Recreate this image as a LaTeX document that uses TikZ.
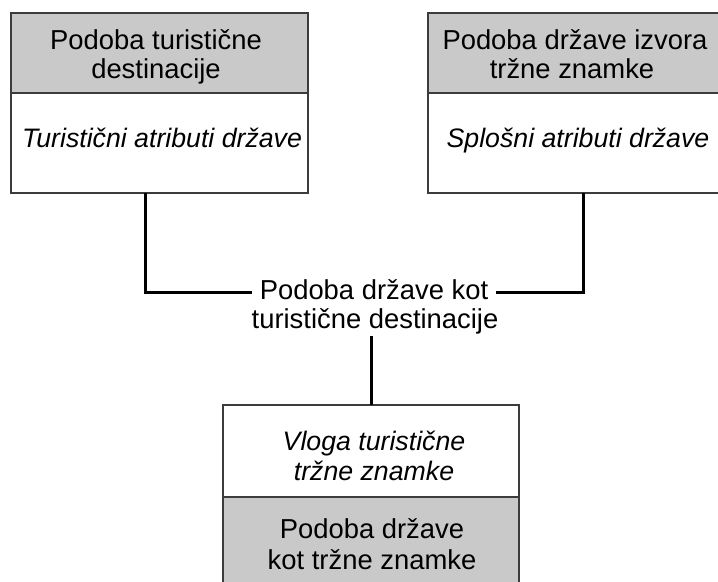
\documentclass[tikz,border=0pt]{standalone}
\usepackage{fontspec}
\setmainfont{Liberation Sans}
\definecolor{boxgray}{RGB}{201,201,201}
\definecolor{edge}{RGB}{60,60,60}
\begin{document}
\begin{tikzpicture}[x=1bp,y=-1bp,
  box/.style={draw=edge, line width=1.4bp, anchor=north west, inner sep=0pt, outer sep=0pt},
  gbox/.style={box, fill=boxgray},
  txt/.style={font=\fontsize{27.5}{30}\selectfont, anchor=base, inner sep=0pt},
  itxt/.style={txt, font=\fontsize{26.8}{30}\selectfont\itshape},
  link/.style={line width=3bp, black},
  lbl/.style={font=\fontsize{27.5}{30}\selectfont, inner xsep=8bp, inner ysep=2bp, anchor=base}
]
\useasboundingbox (0,0) rectangle (718,582);
\clip (0,0) rectangle (718,582);
% left box
\node[gbox, minimum width=297bp, minimum height=80bp] (lt) at (11,13) {};
\node[box, minimum width=297bp, minimum height=100bp] (lb) at (11,93) {};
\node[txt] (lt1) at (156,50) {Podoba turistične};
\node[txt] (lt2) at (156,79) {destinacije};
\node[itxt] (lb1) at (162,148) {Turistični atributi države};
% right box
\node[gbox, minimum width=300bp, minimum height=80bp] (rt) at (428,13) {};
\node[box, minimum width=300bp, minimum height=100bp] (rb) at (428,93) {};
\node[txt] (rt1) at (575,50) {Podoba države izvora};
\node[txt] (rt2) at (572,79) {tržne znamke};
\node[itxt] (rb1) at (578,148) {Splošni atributi države};
% centre text
\node[lbl] (c1) at (374,299) {Podoba države kot};
\node[lbl] (c2) at (375,328) {turistične destinacije};
% bottom box
\node[box, minimum width=296bp, minimum height=92bp] (bt) at (223,405) {};
\node[gbox, minimum width=296bp, minimum height=110bp] (bb) at (223,497) {};
\node[itxt] (bt1) at (374,450) {Vloga turistične};
\node[itxt] (bt2) at (374,480) {tržne znamke};
\node[txt] (bb1) at (372,538) {Podoba države};
\node[txt] (bb2) at (372,569) {kot tržne znamke};
% connectors
\draw[link] ([xshift=134bp]lb.south west) |- (c1.west |- 0,292);
\draw[link] (c1.east |- 0,292) -| ([xshift=155bp]rb.south west);
\draw[link] (c2.south -| bt.north) -- (bt.north);
\end{tikzpicture}
\end{document}
